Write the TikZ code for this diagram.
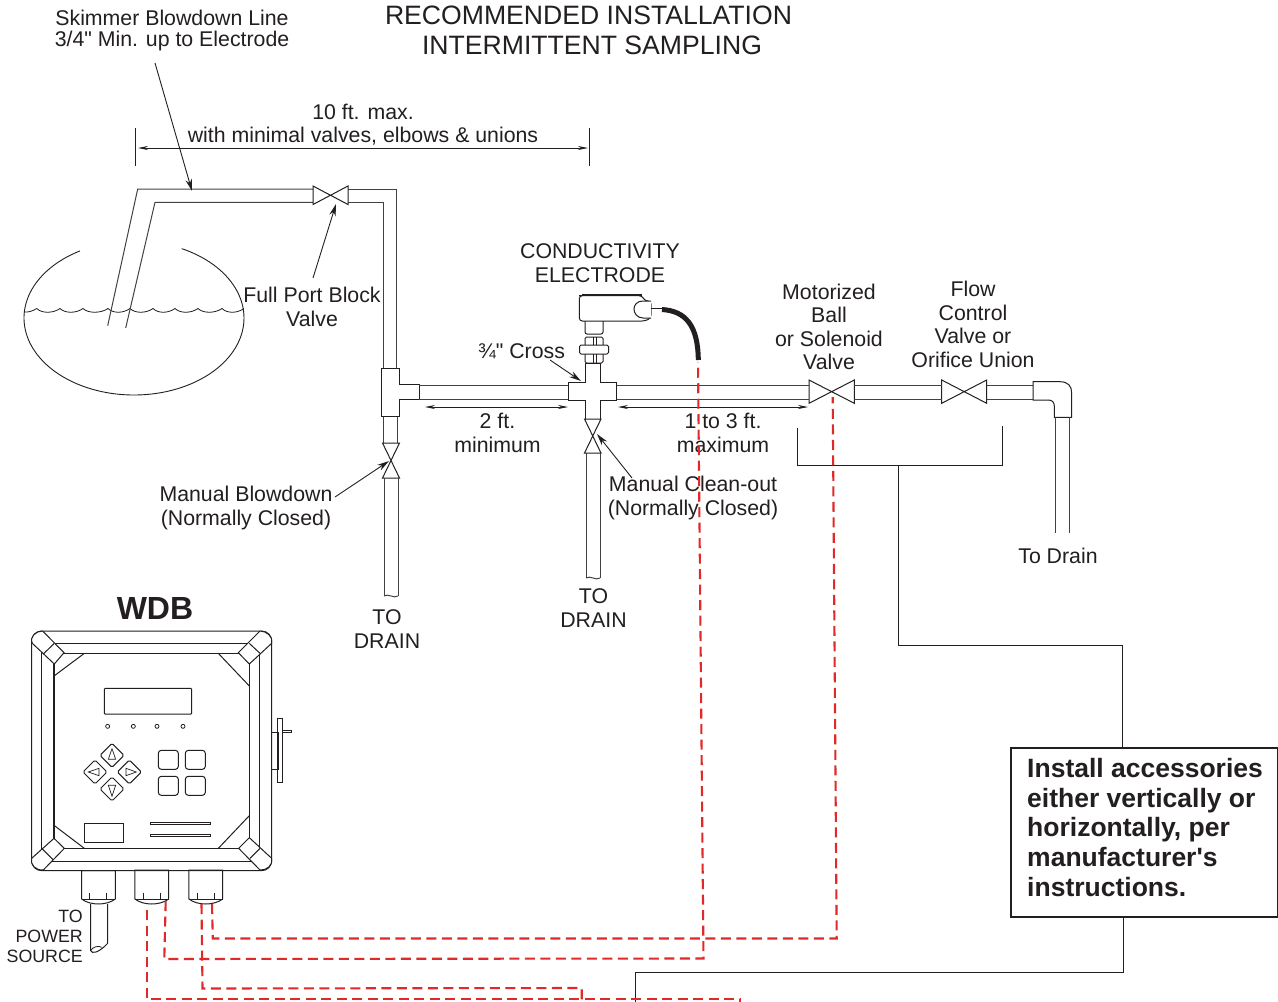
\documentclass[tikz,border=0pt]{standalone}
\usepackage{fontspec}
\setmainfont{Liberation Sans}[Ligatures=TeXOff]
\usetikzlibrary{arrows.meta}
\definecolor{ink}{HTML}{231F20}
\definecolor{wire}{HTML}{E02A2A}
\tikzset{
  pipe/.style={draw=ink!85,line width=1pt,line join=miter},
  thin part/.style={draw=ink,line width=1pt},
  panel/.style={draw=ink,line width=1pt,rounded corners=.8pt},
  valvebody/.style={draw=ink,line width=1pt,fill=white},
  leader/.style={draw=ink,line width=.9pt,-{Stealth[length=12pt,width=6.5pt]}},
  dim/.style={draw=ink,line width=.8pt,{Stealth[length=10pt,width=4pt]}-{Stealth[length=10pt,width=4pt]}},
  redwire/.style={draw=wire,line width=2.1pt,dash pattern=on 10pt off 5.5pt},
  lab/.style={inner sep=0pt,align=center,text=ink,font=\fontsize{21.3}{23.5}\selectfont},
  smalllab/.style={inner sep=0pt,align=right,text=ink,font=\fontsize{17.8}{20}\selectfont},
}
\begin{document}
\begin{tikzpicture}[x=1pt,y=-1pt]
\useasboundingbox (0,0) rectangle (1278,1002);
\fill[white] (0,0) rectangle (1278,1002);

% ---- titles and labels
\node[lab,font=\fontsize{26.6}{30.2}\selectfont] (title) at (588.5,15) {RECOMMENDED INSTALLATION};
\node[lab,font=\fontsize{26.6}{30.2}\selectfont] (title2) at (592,45) {INTERMITTENT SAMPLING};
\node[lab] (skim) at (172,18) {Skimmer Blowdown Line};
\node[lab] (skim2) at (172,41) {3/4" Min. up to Electrode};
\node[lab] (tenft) at (363,124.5) {10 ft. max.\\with minimal valves, elbows \& unions};
\node[lab] (fullport) at (312,307) {Full Port Block\\Valve};
\node[lab] (elec) at (600,263) {CONDUCTIVITY\\ELECTRODE};
\node[lab] (cross) at (521.5,351) {¾" Cross};
\node[lab] (twoft) at (497.5,433) {2 ft.\\minimum};
\node[lab] (onethree) at (723,433) {1 to 3 ft.\\maximum};
\node[lab] (motor) at (829,327) {Motorized\\Ball\\or Solenoid\\Valve};
\node[lab] (flow) at (973,324.5) {Flow\\Control\\Valve or\\Orifice Union};
\node[lab] (blow) at (246,508) {Manual Blowdown\\(Normally Closed)};
\node[lab] (clean) at (693,498) {Manual Clean-out\\(Normally Closed)};
\node[lab] (drainA) at (387,629) {TO\\DRAIN};
\node[lab] (drainB) at (593.5,608) {TO\\DRAIN};
\node[lab] (drainC) at (1058,556) {To Drain};
\node[lab,font=\bfseries\fontsize{32}{36}\selectfont] (wdb) at (155,608) {WDB};
\node[smalllab,anchor=east] (power) at (83,936) {TO\\POWER\\SOURCE};

% ---- tank
\draw[draw=ink,line width=.9pt] plot[domain=119.4:424.3,samples=120,smooth] ({134+110*cos(\x)},{318-77*sin(\x)});
\draw[draw=ink,line width=.8pt] (24,312) .. controls (28,312.5) and (33,311) .. (36.7,308.5);
\foreach \a/\b in {36.7/60,60/83,83/108,108/130,130/153,153/175,175/198,198/222,222/244}
  \draw[draw=ink,line width=.8pt] (\a,308.5) .. controls ({\a+5},313.5) and ({\b-7},313.5) .. (\b,308.5);

% ---- skimmer line
\draw[pipe] (107.7,325.7) -- (137.7,189) -- (313,189);
\draw[pipe] (125.7,328) -- (155,202.3) -- (313,202.3);
\draw[pipe] (348,189) -- (396.7,189) -- (396.7,368.3);
\draw[pipe] (348,202.5) -- (383.3,202.5) -- (383.3,368.3);

% valves on horizontal runs
\newcommand{\hvalve}[4]{\draw[valvebody] (#1,#3) -- (#2,#4) -- (#2,#3) -- (#1,#4) -- cycle;}
\hvalve{313}{348}{186}{204.5}
\hvalve{809}{854.3}{380}{403.3}
\hvalve{941.7}{986.7}{380}{403.3}

% ---- tee
\draw[thin part,fill=white] (381.7,368.3) -- (399.3,368.3) -- (399.3,384.5) -- (419,384.5) -- (419,399) -- (399.3,399) -- (399.3,416.7) -- (381.7,416.7) -- cycle;
\draw[pipe] (383.5,416.7) -- (383.5,443) (397.5,416.7) -- (397.5,443);
\draw[valvebody] (382.5,443) -- (399.5,478) -- (382.5,478) -- (399.5,443) -- cycle;
\draw[pipe] (384,478) -- (384,596) (398,478) -- (398,596);
\draw[pipe] (384,596) .. controls (388,593) and (394,599) .. (398,596);

% ---- runs to cross and beyond
\draw[pipe] (419,385) -- (568.3,385) (419,399) -- (568.3,399);
\draw[pipe] (616,385) -- (809,385) (616,399) -- (809,399);
\draw[pipe] (854.3,385) -- (941.7,385) (854.3,399.3) -- (941.7,399.3);
\draw[pipe] (986.7,385) -- (1033,385) (986.7,399.3) -- (1033,399.3);

% ---- cross
\draw[thin part,fill=white] (585,363) -- (600.7,363) -- (600.7,382.3) -- (616,382.3) -- (616,400) -- (600.7,400) -- (600.7,419) -- (585,419) -- (585,400) -- (568.3,400) -- (568.3,382.3) -- (585,382.3) -- cycle;
\draw[valvebody] (584.5,419) -- (601,453) -- (584.5,453) -- (601,419) -- cycle;
\draw[pipe] (586,453) -- (586,578) (600,453) -- (600,578);
\draw[pipe] (586,578) .. controls (590,575) and (596,581) .. (600,578);

% ---- elbow and drain
\draw[thin part,fill=white] (1033,381.7) -- (1060,381.7) .. controls (1068,381.7) and (1071.7,386) .. (1071.7,393) -- (1071.7,417.3) -- (1054.3,417.3) -- (1054.3,406) .. controls (1054.3,402) and (1052,400) .. (1048,400) -- (1033,400) -- cycle;
\draw[pipe] (1055.7,417.3) -- (1055.7,533) (1069.3,417.3) -- (1069.3,533);

% ---- electrode
\draw[thin part,rounded corners=3pt] (582,295.7) -- (579.3,295.7) -- (579.3,321) -- (645,321) -- (651,318) -- (651,301) -- (645,301) -- (642,295.7) -- cycle;
\draw[draw=ink,line width=1.8pt] (582,295.3) -- (642,295.3);
\draw[thin part,fill=white] (651,301) -- (643,301) .. controls (637,301) and (634,305) .. (634,309) .. controls (634,313) and (637,318) .. (643,318) -- (651,318);
\draw[thin part,rounded corners=2pt] (585,321) -- (585,334) -- (603,334) -- (603,321);
\draw[thin part,rounded corners=1.5pt] (585,337) rectangle (603,363);
\draw[thin part,fill=white,rounded corners=1.5pt] (579.5,345) rectangle (608.5,354);
\draw[thin part] (593,337) -- (593,345) (593,354) -- (593,363) (596,337) -- (596,345) (596,354) -- (596,363);
\draw[thin part] (651,308.5) -- (662,308.5);
\draw[draw=ink,line width=5pt] (662,309.5) .. controls (686,311) and (698,326) .. (698.3,360);

% ---- dimensions
\coordinate (dimL) at (138,148);
\coordinate (dimR) at (588,148);
\draw[draw=ink,line width=.8pt] (135.5,128) -- (135.5,166) (589.5,128) -- (589.5,166);
\draw[dim] (dimL) -- (dimR);
\coordinate (twoL) at (425,407);
\coordinate (twoR) at (568,407);
\draw[dim] (twoL) -- (twoR);
\coordinate (threeL) at (618,407);
\coordinate (threeR) at (808,407);
\draw[dim] (threeL) -- (threeR);

% ---- leaders
\coordinate (skimS) at (155,63);
\coordinate (skimT) at (192,191);
\draw[leader] (skimS) -- (skimT);
\coordinate (fpS) at (313,278);
\coordinate (fpT) at (336,204);
\draw[leader] (fpS) -- (fpT);
\coordinate (crS) at (550,360);
\coordinate (crT) at (581,381);
\draw[leader] (crS) -- (crT);
\coordinate (blS) at (335,497);
\coordinate (blT) at (389,461);
\draw[leader] (blS) -- (blT);
\coordinate (clS) at (632,478);
\coordinate (clT) at (597,434);
\draw[leader] (clS) -- (clT);

% ---- black wiring
\node[draw=ink,line width=1.5pt,minimum width=267pt,minimum height=169pt,inner sep=0pt,anchor=north west] (note) at (1010,747) {};
\node[inner sep=0pt,anchor=north west,align=left,text=ink,font=\bfseries\fontsize{26.5}{29.7}\selectfont] (notetext) at (1027,758) {Install accessories\\either vertically or\\horizontally, per\\manufacturer's\\instructions.};
\coordinate (brL) at (797,428);
\coordinate (brLb) at (797,465.5);
\coordinate (brRb) at (1002,465.5);
\coordinate (brR) at (1002,426);
\coordinate (brM) at (898.7,465.5);
\draw[draw=ink,line width=.9pt] (brL) -- (brLb) -- (brRb) -- (brR);
\draw[draw=ink,line width=.9pt] (brM) -- (898.7,645.5) -- (1122,645.5) -- (1122,747);
\coordinate (bottomEnd) at (635,1002);
\draw[draw=ink,line width=.9pt] (1123,916) -- (1123,972) -- (635,972) -- (bottomEnd);

% ---- controller
\begin{scope}[shift={(0,600)},x=.33333pt,y=-.33333pt]
  \draw[draw=ink,rounded corners=10pt,line width=1pt] (95,93) rectangle (815,812);
  \draw[thin part] (125,130) -- (125,783) -- (778,783) -- (778,130) -- cycle;
  \draw[draw=ink,line width=1.4pt] (162,160) rectangle (748,745);
  % corners
  \draw[valvebody] (128,93) -- (192,158) -- (163,192) -- (97,130) .. controls (88,110) and (108,93) .. (128,93);
  \draw[thin part] (163,130) -- (130,162);
  \draw[valvebody] (780,93) -- (715,158) -- (748,192) -- (815,130) .. controls (820,110) and (800,93) .. (780,93);
  \draw[thin part] (748,130) -- (780,160);
  \draw[valvebody] (95,775) -- (162,715) -- (193,745) -- (130,810) .. controls (108,812) and (90,795) .. (95,775);
  \draw[thin part] (125,745) -- (160,780);
  \draw[valvebody] (815,775) -- (748,713) -- (716,745) -- (780,810) .. controls (800,812) and (820,795) .. (815,775);
  \draw[thin part] (780,745) -- (750,775);
  % panel cuts
  \draw[thin part] (162,228) -- (253,160) (655,160) -- (748,258) (162,676) -- (253,745) (655,745) -- (748,647);
  % display
  \draw[panel] (313,265) rectangle (575,342);
  \foreach \x in {323,400,471,549} \draw[draw=ink,line width=.8pt] (\x,379) circle (6);
  % keypad
  \foreach \cx/\cy in {336/466,285/516,388/516,336/567}
    \draw[panel,rounded corners=1.5pt] (\cx,\cy-36) -- (\cx+36,\cy) -- (\cx,\cy+36) -- (\cx-36,\cy) -- cycle;
  \draw[draw=ink,line width=.7pt] (336,446) -- (325,478) -- (347,478) -- cycle;
  \draw[draw=ink,line width=.7pt] (336,589) -- (325,556) -- (347,556) -- cycle;
  \draw[draw=ink,line width=.7pt] (265,516) -- (297,505) -- (297,527) -- cycle;
  \draw[draw=ink,line width=.7pt] (409,516) -- (378,505) -- (378,527) -- cycle;
  \foreach \xa/\ya in {475/451,556/451,475/529,556/529}
    \draw[panel,rounded corners=3pt] (\xa,\ya) rectangle (\xa+60,\ya+57);
  \draw[draw=ink,line width=1.4pt] (253,671) rectangle (371,727);
  \draw[thin part] (452,666) rectangle (633,673) (452,703) rectangle (632,710);
  % latch
  \draw[thin part] (815,397) rectangle (835,509) (834,356) rectangle (848,548) (848,390) rectangle (875,397);
  % glands
  \foreach \gx/\gy in {245/812,405/810,567/810}{
    \draw[thin part] (\gx,\gy) -- (\gx,897) .. controls (\gx+25,917) and (\gx+75,917) .. (\gx+101,897) -- (\gx+101,\gy) -- cycle;
    \draw[thin part] (\gx,897) -- (\gx+101,897);
    \draw[thin part] (\gx+25,878) -- (\gx+25,897) (\gx+76,878) -- (\gx+76,897);
  }
  % power cable
  \draw[thin part] (272,912) -- (272,1052) .. controls (275,1062) and (295,1060) .. (323,1030) -- (323,912);
  \draw[draw=ink,line width=.8pt] (272,1052) .. controls (278,1040) and (295,1036) .. (305,1042);
\end{scope}

% ---- red wires
\coordinate (endA) at (740,1002);
\coordinate (endC) at (581.7,1002);
\coordinate (valveM) at (832.7,397);
\coordinate (elecEnd) at (698,362);
\draw[redwire] (146.7,910) -- (146.7,999) -- (740,999) -- (endA);
\draw[redwire] (165.7,901) -- (164.3,959) -- (703.5,958.5) -- (elecEnd);
\draw[redwire] (201.5,904) -- (202.5,988.5) -- (581.7,988) -- (endC);
\draw[redwire] (212,904) -- (212.8,938.5) -- (836.7,938.5) -- (valveM);
\end{tikzpicture}
\end{document}
